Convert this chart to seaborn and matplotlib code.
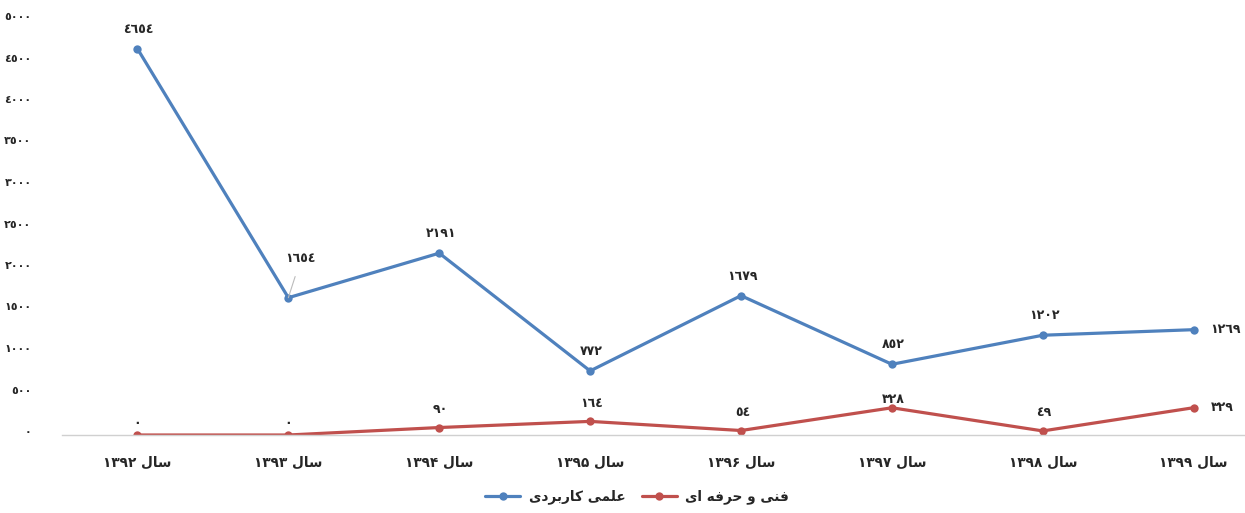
import matplotlib
matplotlib.use("Agg")
import matplotlib.pyplot as plt
import pandas as pd
import seaborn as sns
from matplotlib.lines import Line2D
from matplotlib.transforms import ScaledTranslation

years = [1392, 1393, 1394, 1395, 1396, 1397, 1398, 1399]
elmi = [4654, 1654, 2191, 772, 1679, 852, 1202, 1269]
fani = [0, 0, 90, 164, 54, 328, 49, 329]
y_ticks = [0, 500, 1000, 1500, 2000, 2500, 3000, 3500, 4000, 4500, 5000]

# Arabic text is shaped and reversed by hand (matplotlib has no bidi)
SAL = "\ufedd\ufe8e\ufeb3"                      # سال
ELMI = "\ufeef\ufea9\ufeae\ufe91\ufead\ufe8e\ufedb \ufef0\ufee4\ufee0\ufecb"   # علمی کاربردی
FANI = "\ufeef\ufe8d \ufeea\ufed3\ufeae\ufea3 \ufeed \ufef0\ufee8\ufed3"       # فنی و حرفه ای

AR = "٠١٢٣٤٥٦٧٨٩"
FA = "۰۱۲۳۴۵۶۷۸۹"


def digits(n, table=AR):
    return "".join(table[int(c)] for c in str(n))


blue = "#4f81bd"
red = "#c0504d"

sns.set_style("white")
plt.rcParams["font.family"] = ["DejaVu Sans"]
plt.rcParams["font.weight"] = "bold"

df = pd.DataFrame({
    "x": list(range(len(years))) * 2,
    "value": elmi + fani,
    "group": ["elmi"] * len(years) + ["fani"] * len(years),
})

fig = plt.figure(figsize=(12.45, 5.13), dpi=100)
ax = fig.add_axes([62 / 1245, 78 / 513, 1 - 62 / 1245, (435 - 20) / 513])

sns.lineplot(data=df, x="x", y="value", hue="group", palette=[blue, red],
             marker="o", markersize=6, markeredgewidth=0, linewidth=2.3,
             legend=False, ax=ax)

ax.set_xlim(-0.5, 7.34)
ax.set_ylim(0, 5000)
ax.set_yticks(y_ticks)
ax.set_yticklabels([digits(v) for v in y_ticks], fontsize=8, fontweight="bold")
ax.set_xticks(range(len(years)))
ax.set_xticklabels([digits(y, FA) + " " + SAL for y in years], fontsize=9.8,
                   fontweight="bold")
ax.tick_params(axis="y", length=0, pad=22)
ax.tick_params(axis="x", length=0, pad=15)
ax.set_xlabel("")
ax.set_ylabel("")
for s in ["top", "right", "left"]:
    ax.spines[s].set_visible(False)
ax.spines["bottom"].set_color("#d0d0d0")
ax.spines["bottom"].set_linewidth(1)

shift = ScaledTranslation(0, 4 / 100, fig.dpi_scale_trans)
for lab in ax.get_yticklabels():
    lab.set_transform(lab.get_transform() + shift)

# data labels
last = len(years) - 1
for i, v in enumerate(elmi):
    if i == last:
        ax.annotate(digits(v), (i, v), xytext=(12, 0), textcoords="offset points",
                    ha="left", va="center", fontsize=9, fontweight="bold")
    elif i == 1:
        ax.annotate(digits(v), (i, v), xytext=(9, 28), textcoords="offset points",
                    ha="center", va="center", fontsize=9, fontweight="bold",
                    arrowprops=dict(arrowstyle="-", color="#bbbbbb", lw=0.8,
                                    shrinkA=6, shrinkB=0))
    else:
        ax.annotate(digits(v), (i, v), xytext=(1, 14), textcoords="offset points",
                    ha="center", va="center", fontsize=9, fontweight="bold")

for i, v in enumerate(fani):
    if i == last:
        ax.annotate(digits(v), (i, v), xytext=(12, 0), textcoords="offset points",
                    ha="left", va="center", fontsize=9, fontweight="bold")
    elif v == 328:
        ax.annotate(digits(v), (i, v), xytext=(1, 6), textcoords="offset points",
                    ha="center", va="center", fontsize=9, fontweight="bold")
    elif v == 0:
        ax.annotate(digits(v), (i, v), xytext=(0, 8), textcoords="offset points",
                    ha="center", va="center", fontsize=9, fontweight="bold")
    else:
        ax.annotate(digits(v), (i, v), xytext=(1, 13), textcoords="offset points",
                    ha="center", va="center", fontsize=9, fontweight="bold")

handles = [
    Line2D([], [], color=blue, marker="o", markersize=6, markeredgewidth=0, lw=2.3),
    Line2D([], [], color=red, marker="o", markersize=6, markeredgewidth=0, lw=2.3),
]
fig.legend(handles, [ELMI, FANI], loc="center", bbox_to_anchor=(637 / 1245, 1 - 497 / 513),
           ncol=2, frameon=False, prop={"size": 9.8, "weight": "bold"},
           handlelength=2.6, columnspacing=1.2, handletextpad=0.6)

fig.savefig("out.png", dpi=100)
